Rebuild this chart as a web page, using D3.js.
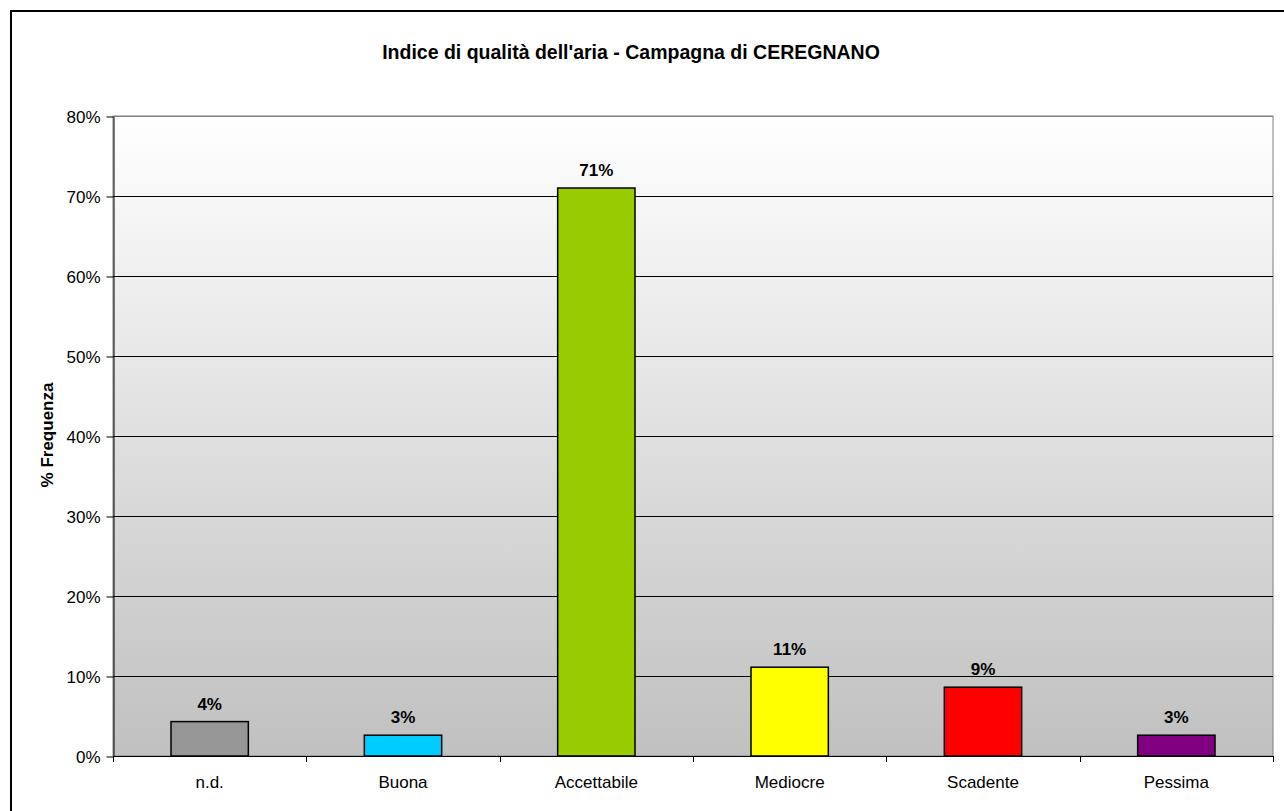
<!DOCTYPE html>
<html><head><meta charset="utf-8">
<script src="https://cdn.jsdelivr.net/npm/d3@7"></script>
<style>body{margin:0;background:#fff}svg{display:block}text{font-family:"Liberation Sans",Arial,sans-serif}</style>
</head><body>
<script>
const categories = ["n.d.", "Buona", "Accettabile", "Mediocre", "Scadente", "Pessima"];
const values = [4.3, 2.6, 71, 11.1, 8.6, 2.6];
const labels = ["4%", "3%", "71%", "11%", "9%", "3%"];
const colors = ["#969696", "#00ccff", "#99cc00", "#ffff00", "#ff0000", "#800080"];
const yTicks = [0, 10, 20, 30, 40, 50, 60, 70, 80];
const title = "Indice di qualità dell'aria - Campagna di CEREGNANO";
const yTitle = "% Frequenza";

const W = 1284, H = 811;
const m = {left: 113, top: 116, right: 1273, bottom: 756};
const svg = d3.select("body").append("svg").attr("width", W).attr("height", H);

const defs = svg.append("defs");
const g = defs.append("linearGradient").attr("id", "bg").attr("x1", 0).attr("y1", 0).attr("x2", 0).attr("y2", 1);
g.append("stop").attr("offset", "0%").attr("stop-color", "#ffffff");
g.append("stop").attr("offset", "100%").attr("stop-color", "#c0c0c0");

svg.append("rect").attr("x", 11).attr("y", 11).attr("width", 1400).attr("height", 1000)
  .attr("fill", "#fff").attr("stroke", "#000").attr("stroke-width", 2);

const x = d3.scaleBand().domain(categories).range([m.left, m.right]).paddingInner(0.6).paddingOuter(0.3);
const xb = d3.scaleBand().domain(categories).range([m.left, m.right]);
const y = d3.scaleLinear().domain([0, 80]).range([m.bottom, m.top]);

svg.append("rect").attr("x", m.left).attr("y", m.top).attr("width", m.right - m.left).attr("height", m.bottom - m.top)
  .attr("fill", "url(#bg)").attr("stroke", "#808080").attr("stroke-width", 1);

svg.append("g").selectAll("line").data(yTicks.filter(d => d > 0 && d < 80)).join("line")
  .attr("x1", m.left).attr("x2", m.right).attr("y1", d => Math.round(y(d)) + 0.5).attr("y2", d => Math.round(y(d)) + 0.5)
  .attr("stroke", "#000").attr("stroke-width", 1);
svg.append("line").attr("x1", m.left).attr("x2", m.right).attr("y1", m.top + 0.5).attr("y2", m.top + 0.5).attr("stroke", "#808080");

// y axis
const yAxis = d3.axisLeft(y).tickValues(yTicks).tickFormat(d => d + "%").tickSize(7).tickSizeOuter(0);
const ya = svg.append("g").attr("transform", `translate(${m.left + 0.5},0.5)`).call(yAxis);
ya.select(".domain").attr("stroke", "#000");
ya.selectAll(".tick line").attr("stroke", "#000");
ya.selectAll("text").attr("font-size", 17).attr("fill", "#000").attr("x", -13).attr("dy", "0.35em").attr("font-family", '"Liberation Sans",Arial,sans-serif');

// bars
svg.append("g").selectAll("rect").data(categories).join("rect")
  .attr("x", d => x(d)).attr("width", x.bandwidth())
  .attr("y", (d, i) => y(values[i])).attr("height", (d, i) => y(0) - y(values[i]))
  .attr("fill", (d, i) => colors[i]).attr("stroke", "#000").attr("stroke-width", 1.5);

svg.append("g").selectAll("text").data(categories).join("text")
  .attr("x", d => x(d) + x.bandwidth() / 2).attr("y", (d, i) => y(values[i]) - 12)
  .attr("text-anchor", "middle").attr("font-size", 17).attr("font-weight", "bold").text((d, i) => labels[i]);

// x axis
svg.append("line").attr("x1", m.left).attr("x2", m.right).attr("y1", m.bottom + 0.5).attr("y2", m.bottom + 0.5).attr("stroke", "#000");
const xt = categories.map(c => xb(c)).concat([m.right]);
svg.append("g").selectAll("line").data(xt).join("line")
  .attr("x1", d => Math.round(d) + 0.5).attr("x2", d => Math.round(d) + 0.5)
  .attr("y1", m.bottom).attr("y2", m.bottom + 6).attr("stroke", "#000");
svg.append("g").selectAll("text").data(categories).join("text")
  .attr("x", d => xb(d) + xb.bandwidth() / 2).attr("y", 788)
  .attr("text-anchor", "middle").attr("font-size", 17).text(d => d);

svg.append("text").attr("x", 631).attr("y", 59).attr("text-anchor", "middle")
  .attr("font-size", 19.5).attr("font-weight", "bold").text(title);
svg.append("text").attr("transform", "translate(53,435) rotate(-90)").attr("text-anchor", "middle")
  .attr("font-size", 17).attr("font-weight", "bold").text(yTitle);
</script>
</body></html>
